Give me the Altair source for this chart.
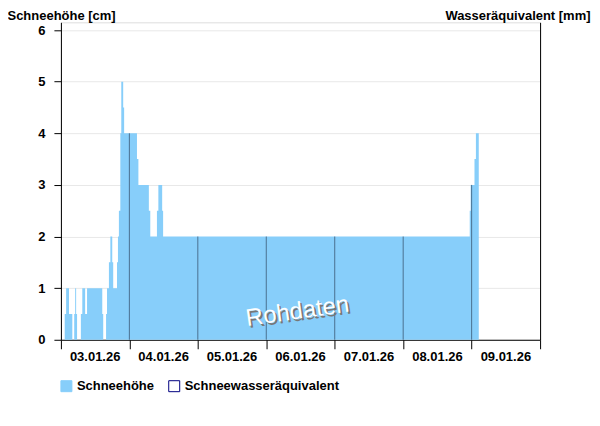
import altair as alt
import pandas as pd

# --- data: snow depth step series (change points) ---
change_times = [
    "2026-01-03T01:20", "2026-01-03T01:50", "2026-01-03T02:50", "2026-01-03T04:00",
    "2026-01-03T04:40", "2026-01-03T05:00", "2026-01-03T05:20", "2026-01-03T05:40",
    "2026-01-03T07:00", "2026-01-03T07:30", "2026-01-03T08:30", "2026-01-03T09:10",
    "2026-01-03T14:30", "2026-01-03T14:50", "2026-01-03T15:50", "2026-01-03T16:10",
    "2026-01-03T16:50", "2026-01-03T17:20", "2026-01-03T18:00", "2026-01-03T18:20",
    "2026-01-03T19:40", "2026-01-03T20:00", "2026-01-03T20:20", "2026-01-03T20:50",
    "2026-01-03T21:10", "2026-01-03T21:50", "2026-01-03T22:10",
    "2026-01-04T02:40", "2026-01-04T03:10", "2026-01-04T06:50", "2026-01-04T07:20",
    "2026-01-04T09:40", "2026-01-04T10:10", "2026-01-04T11:30", "2026-01-04T11:50",
    "2026-01-08T23:20", "2026-01-08T23:40", "2026-01-09T01:00", "2026-01-09T01:30",
    "2026-01-09T02:30",
]
snow_cm = [
    0.5, 1, 0.5, 0,
    0.5, 1, 0.5, 0,
    0.5, 1, 0.5, 1,
    0.5, 0, 0.5, 1,
    1.5, 2, 1.5, 1,
    1.5, 2, 2.5, 4,
    5, 4.5, 4,
    3.5, 3, 2.5, 2,
    2.5, 3, 2.5, 2,
    2.5, 3, 3.5, 4,
    0,
]
series_names = ["Schneehöhe", "Schneewasseräquivalent"]
day_labels = ["03.01.26", "04.01.26", "05.01.26", "06.01.26", "07.01.26", "08.01.26", "09.01.26"]
label_times = ["2026-01-03T12:00", "2026-01-04T12:00", "2026-01-05T12:00", "2026-01-06T12:00",
               "2026-01-07T12:00", "2026-01-08T12:00", "2026-01-09T12:00"]
y_ticks = [0, 1, 2, 3, 4, 5, 6]
x_start = "2026-01-03T00:00"
x_end = "2026-01-10T00:00"

BAR = "#87CEFA"
FONT = "Liberation Sans"
W, H = 480, 318

df = pd.DataFrame({"t": pd.to_datetime(change_times), "v": snow_cm})

# values of the step series at each midnight (for the dark day separators)
midnights = pd.date_range("2026-01-04", "2026-01-09", freq="D")
mid_vals = []
for m in midnights:
    prev = df[df["t"] <= m]
    mid_vals.append(float(prev["v"].iloc[-1]) if len(prev) else 0.0)
df_mid = pd.DataFrame({"t": midnights, "v": mid_vals, "z": [0.0] * len(midnights)})
df_mid = df_mid[df_mid["v"] > 0]

df_lab = pd.DataFrame({"t": pd.to_datetime(label_times), "lab": day_labels})

tick_times = pd.date_range(x_start, x_end, freq="6h")
tick_values = [alt.DateTime(year=t.year, month=t.month, date=t.day, hours=t.hour) for t in tick_times]

xs = pd.Timestamp(x_start)
xe = pd.Timestamp(x_end)
x_scale = alt.Scale(domain=[alt.DateTime(year=xs.year, month=xs.month, date=xs.day),
                            alt.DateTime(year=xe.year, month=xe.month, date=xe.day)])
y_scale = alt.Scale(domain=[0, 6.15], nice=False)

x_axis = alt.Axis(
    values=tick_values, labels=False,
    tickSize={"condition": {"test": "hours(datum.value) == 0", "value": 9}, "value": 5},
    grid=False, title=None,
    domainColor="black", tickColor="black",
)
y_axis = alt.Axis(
    values=y_ticks, format="d", grid=True, gridColor="#e8e8e8",
    tickSize=7, labelPadding=9,
    labelFont=FONT, labelFontSize=13, labelFontWeight="bold", labelColor="black",
    domainColor="black", tickColor="black",
    title="Schneehöhe [cm]", titleAngle=0, titleAlign="left", titleBaseline="alphabetic",
    titleX=-54, titleY=-3, titleFont=FONT, titleFontSize=13, titleFontWeight="bold",
    titleColor="black",
)

area = alt.Chart(df).mark_area(interpolate="step-after", color=BAR).encode(
    x=alt.X("t:T", scale=x_scale, axis=x_axis),
    y=alt.Y("v:Q", scale=y_scale, axis=y_axis),
)

rules = alt.Chart(df_mid).mark_rule(color="#4a7090", strokeWidth=1).encode(
    x="t:T",
    y="v:Q",
    y2="z:Q",
)

day_text = alt.Chart(df_lab).mark_text(
    font=FONT, fontSize=13, fontWeight="bold", color="black", align="center", baseline="top"
).encode(x="t:T", y=alt.value(H + 11), text="lab:N")

wm_df = pd.DataFrame({"txt": ["Rohdaten"]})
wm_shadow = alt.Chart(wm_df).mark_text(
    font=FONT, fontSize=24, angle=352, color="#777777", align="center", baseline="middle"
).encode(x=alt.value(239), y=alt.value(292), text="txt:N")
wm_text = alt.Chart(wm_df).mark_text(
    font=FONT, fontSize=24, angle=352, color="white", align="center", baseline="middle"
).encode(x=alt.value(237), y=alt.value(290), text="txt:N")

main = alt.layer(area, rules, day_text, wm_shadow, wm_text)

leg_kwargs = dict(title=None, orient="none", legendX=-1, legendY=358,
                  direction="horizontal", symbolType="square",
                  symbolSize=121, symbolStrokeWidth=1, columnPadding=12,
                  labelFont=FONT, labelFontSize=13, labelFontWeight="bold",
                  labelColor="black", symbolOpacity=1)

leg_df = pd.DataFrame({"series": series_names, "t": [xs, xs], "w": [None, None]})
legend_layer = alt.Chart(leg_df).mark_point(shape="square", filled=True, strokeWidth=1).encode(
    x="t:T",
    y=alt.Y("w:Q", scale=alt.Scale(domain=[0, 1]),
            axis=alt.Axis(orient="right", labels=False, ticks=False, grid=False,
                          domainColor="black",
                          title="Wasseräquivalent [mm]", titleAngle=0, titleAlign="right",
                          titleBaseline="alphabetic", titleX=50, titleY=-3,
                          titleFont=FONT, titleFontSize=13, titleFontWeight="bold",
                          titleColor="black")),
    fill=alt.Fill("series:N", scale=alt.Scale(domain=series_names, range=[BAR, "white"]),
                  legend=alt.Legend(**leg_kwargs)),
    stroke=alt.Stroke("series:N", scale=alt.Scale(domain=series_names, range=[BAR, "#000080"]),
                      legend=alt.Legend(**leg_kwargs)),
)

chart = alt.layer(main, legend_layer).resolve_scale(
    y="independent"
).properties(
    width=W, height=H,
    autosize=alt.AutoSizeParams(type="none"),
    padding={"left": 53, "top": 14, "right": 52, "bottom": 70},
).configure_view(stroke=None).configure(background="white")

chart.save("out.html", embed_options={"renderer": "svg", "actions": False})
